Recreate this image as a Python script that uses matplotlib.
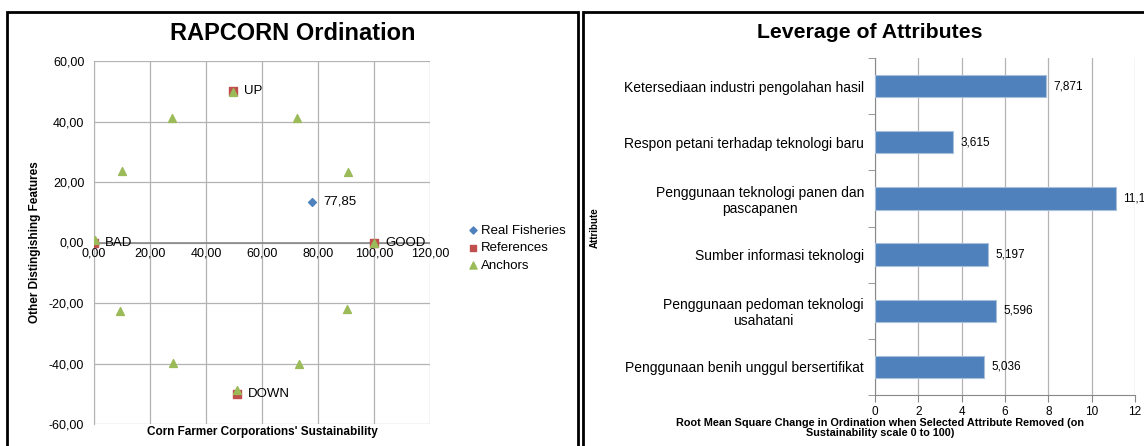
import matplotlib.pyplot as plt
from matplotlib.patches import Rectangle

plt.rcParams['font.family'] = ['Liberation Sans', 'DejaVu Sans']

# Ordination data
real_x = [77.85]
real_y = [13.5]
real_labels = ["77,85"]

ref_x = [0.0, 100.0, 49.5, 51.0]
ref_y = [0.0, 0.0, 50.0, -50.0]
ref_labels = ["BAD", "GOOD", "UP", "DOWN"]

anchor_x = [0.5, 49.6, 28.0, 72.5, 10.1, 90.7, 99.9, 9.3, 90.5, 28.3, 73.1, 50.9]
anchor_y = [0.9, 49.7, 41.2, 41.2, 23.6, 23.4, 0.0, -22.5, -22.1, -39.7, -40.0, -48.6]

x_ticks = [0, 20, 40, 60, 80, 100, 120]
y_ticks = [-60, -40, -20, 0, 20, 40, 60]

# Leverage data
attributes = [
    "Ketersediaan industri pengolahan hasil",
    "Respon petani terhadap teknologi baru",
    "Penggunaan teknologi panen dan\npascapanen",
    "Sumber informasi teknologi",
    "Penggunaan pedoman teknologi\nusahatani",
    "Penggunaan benih unggul bersertifikat",
]
leverage = [7.871, 3.615, 11.10, 5.197, 5.596, 5.036]
leverage_labels = ["7,871", "3,615", "11,100", "5,197", "5,596", "5,036"]

blue = "#4F81BD"
red = "#C0504D"
green = "#9BBB59"
grid_col = "#b3b3b3"

W, H = 1144, 446


def fmt(v):
    return f"{v:.2f}".replace(".", ",")


fig = plt.figure(figsize=(W / 100, H / 100), dpi=100)

# panel borders
fig.patches.append(Rectangle((7 / W, -0.05), 571 / W, (H - 12) / H + 0.05,
                             transform=fig.transFigure, fill=False, lw=2, ec="black"))
fig.patches.append(Rectangle((583 / W, -0.05), 0.6, (H - 12) / H + 0.05,
                             transform=fig.transFigure, fill=False, lw=2, ec="black"))

# ---------------- Left: ordination ----------------
ax1 = fig.add_axes([94 / W, 22 / H, 336 / W, 363 / H])
ax1.set_xlim(0, 120)
ax1.set_ylim(-60, 60)
ax1.set_xticks(x_ticks)
ax1.set_yticks(y_ticks)
ax1.set_xticklabels([])
ax1.set_yticklabels([fmt(t) for t in y_ticks], fontsize=9)
ax1.grid(True, color=grid_col, lw=0.9)
ax1.tick_params(axis="y", length=0, pad=7)
ax1.tick_params(axis="x", length=0)
for s in ["top", "right", "bottom"]:
    ax1.spines[s].set_visible(False)
ax1.spines["left"].set_color(grid_col)
ax1.axhline(0, color="#888888", lw=1.2)
for t in x_ticks:
    ax1.text(t, -1.6, fmt(t), ha="center", va="top", fontsize=9)

ax1.scatter(anchor_x, anchor_y, marker="^", s=32, color=green, zorder=4, label="Anchors")
ax1.scatter(ref_x, ref_y, marker="s", s=30, color=red, zorder=3, label="References")
ax1.scatter(real_x, real_y, marker="D", s=16, color=blue, zorder=5, label="Real Fisheries")
for x, y, lab in zip(ref_x, ref_y, ref_labels):
    ax1.text(x + 4, y, lab, va="center", ha="left", fontsize=9.5, zorder=6)
for x, y, lab in zip(real_x, real_y, real_labels):
    ax1.text(x + 4, y, lab, va="center", ha="left", fontsize=9.5)

fig.text(293 / W, 1 - 33 / H, "RAPCORN Ordination", fontsize=17, fontweight="bold",
         ha="center", va="center")
fig.text(262 / W, 1 - 432 / H, "Corn Farmer Corporations' Sustainability", fontsize=8.5,
         fontweight="bold", ha="center", va="center")
ax1.set_ylabel("Other Distingishing Features", fontsize=8.5, fontweight="bold", labelpad=6)

handles, labels = ax1.get_legend_handles_labels()
order = [2, 1, 0]
fig.legend([handles[i] for i in order], [labels[i] for i in order],
           loc="center left", bbox_to_anchor=(455 / W, 1 - 248 / H),
           frameon=False, fontsize=9.5, handletextpad=0.05, labelspacing=0.4,
           handlelength=1, markerscale=0.9)

# ---------------- Right: leverage ----------------
ax2 = fig.add_axes([875 / W, 51 / H, 260 / W, 337 / H])
pos = list(range(len(attributes)))[::-1]
ax2.barh(pos, leverage, height=0.4, color=blue, edgecolor="#a9c0dd", lw=0.8, zorder=3)
for p, v, lab in zip(pos, leverage, leverage_labels):
    ax2.text(v + 0.35, p, lab, va="center", ha="left", fontsize=8.5, clip_on=False)
ax2.set_xlim(0, 12)
ax2.set_ylim(-0.5, 5.5)
ax2.set_xticks(range(0, 13, 2))
ax2.set_yticks(pos)
ax2.set_yticklabels(attributes, fontsize=10, ha="right", multialignment="center")
ax2.tick_params(axis="y", length=0, pad=8)
ax2.set_yticks([i + 0.5 for i in range(-1, 6)], minor=True)
ax2.tick_params(axis="y", which="minor", length=5, color="#888888")
ax2.tick_params(axis="x", length=5, color="#888888", labelsize=8.5, pad=3)
ax2.grid(True, axis="x", color=grid_col, lw=0.9, zorder=0)
for s in ["top", "right"]:
    ax2.spines[s].set_visible(False)
ax2.spines["left"].set_color("#888888")
ax2.spines["bottom"].set_color("#888888")
fig.text(870 / W, 1 - 32 / H, "Leverage of Attributes", fontsize=15.3, fontweight="bold",
         ha="center", va="center")
fig.text(880 / W, 1 - 428 / H,
         "Root Mean Square Change in Ordination when Selected Attribute Removed (on\n"
         "Sustainability scale 0 to 100)", fontsize=7.8, fontweight="bold",
         ha="center", va="center", linespacing=1.0)
fig.text(595 / W, 1 - 228 / H, "Attribute", fontsize=7, fontweight="bold",
         rotation=90, ha="center", va="center")

fig.savefig("out.png", dpi=100)
